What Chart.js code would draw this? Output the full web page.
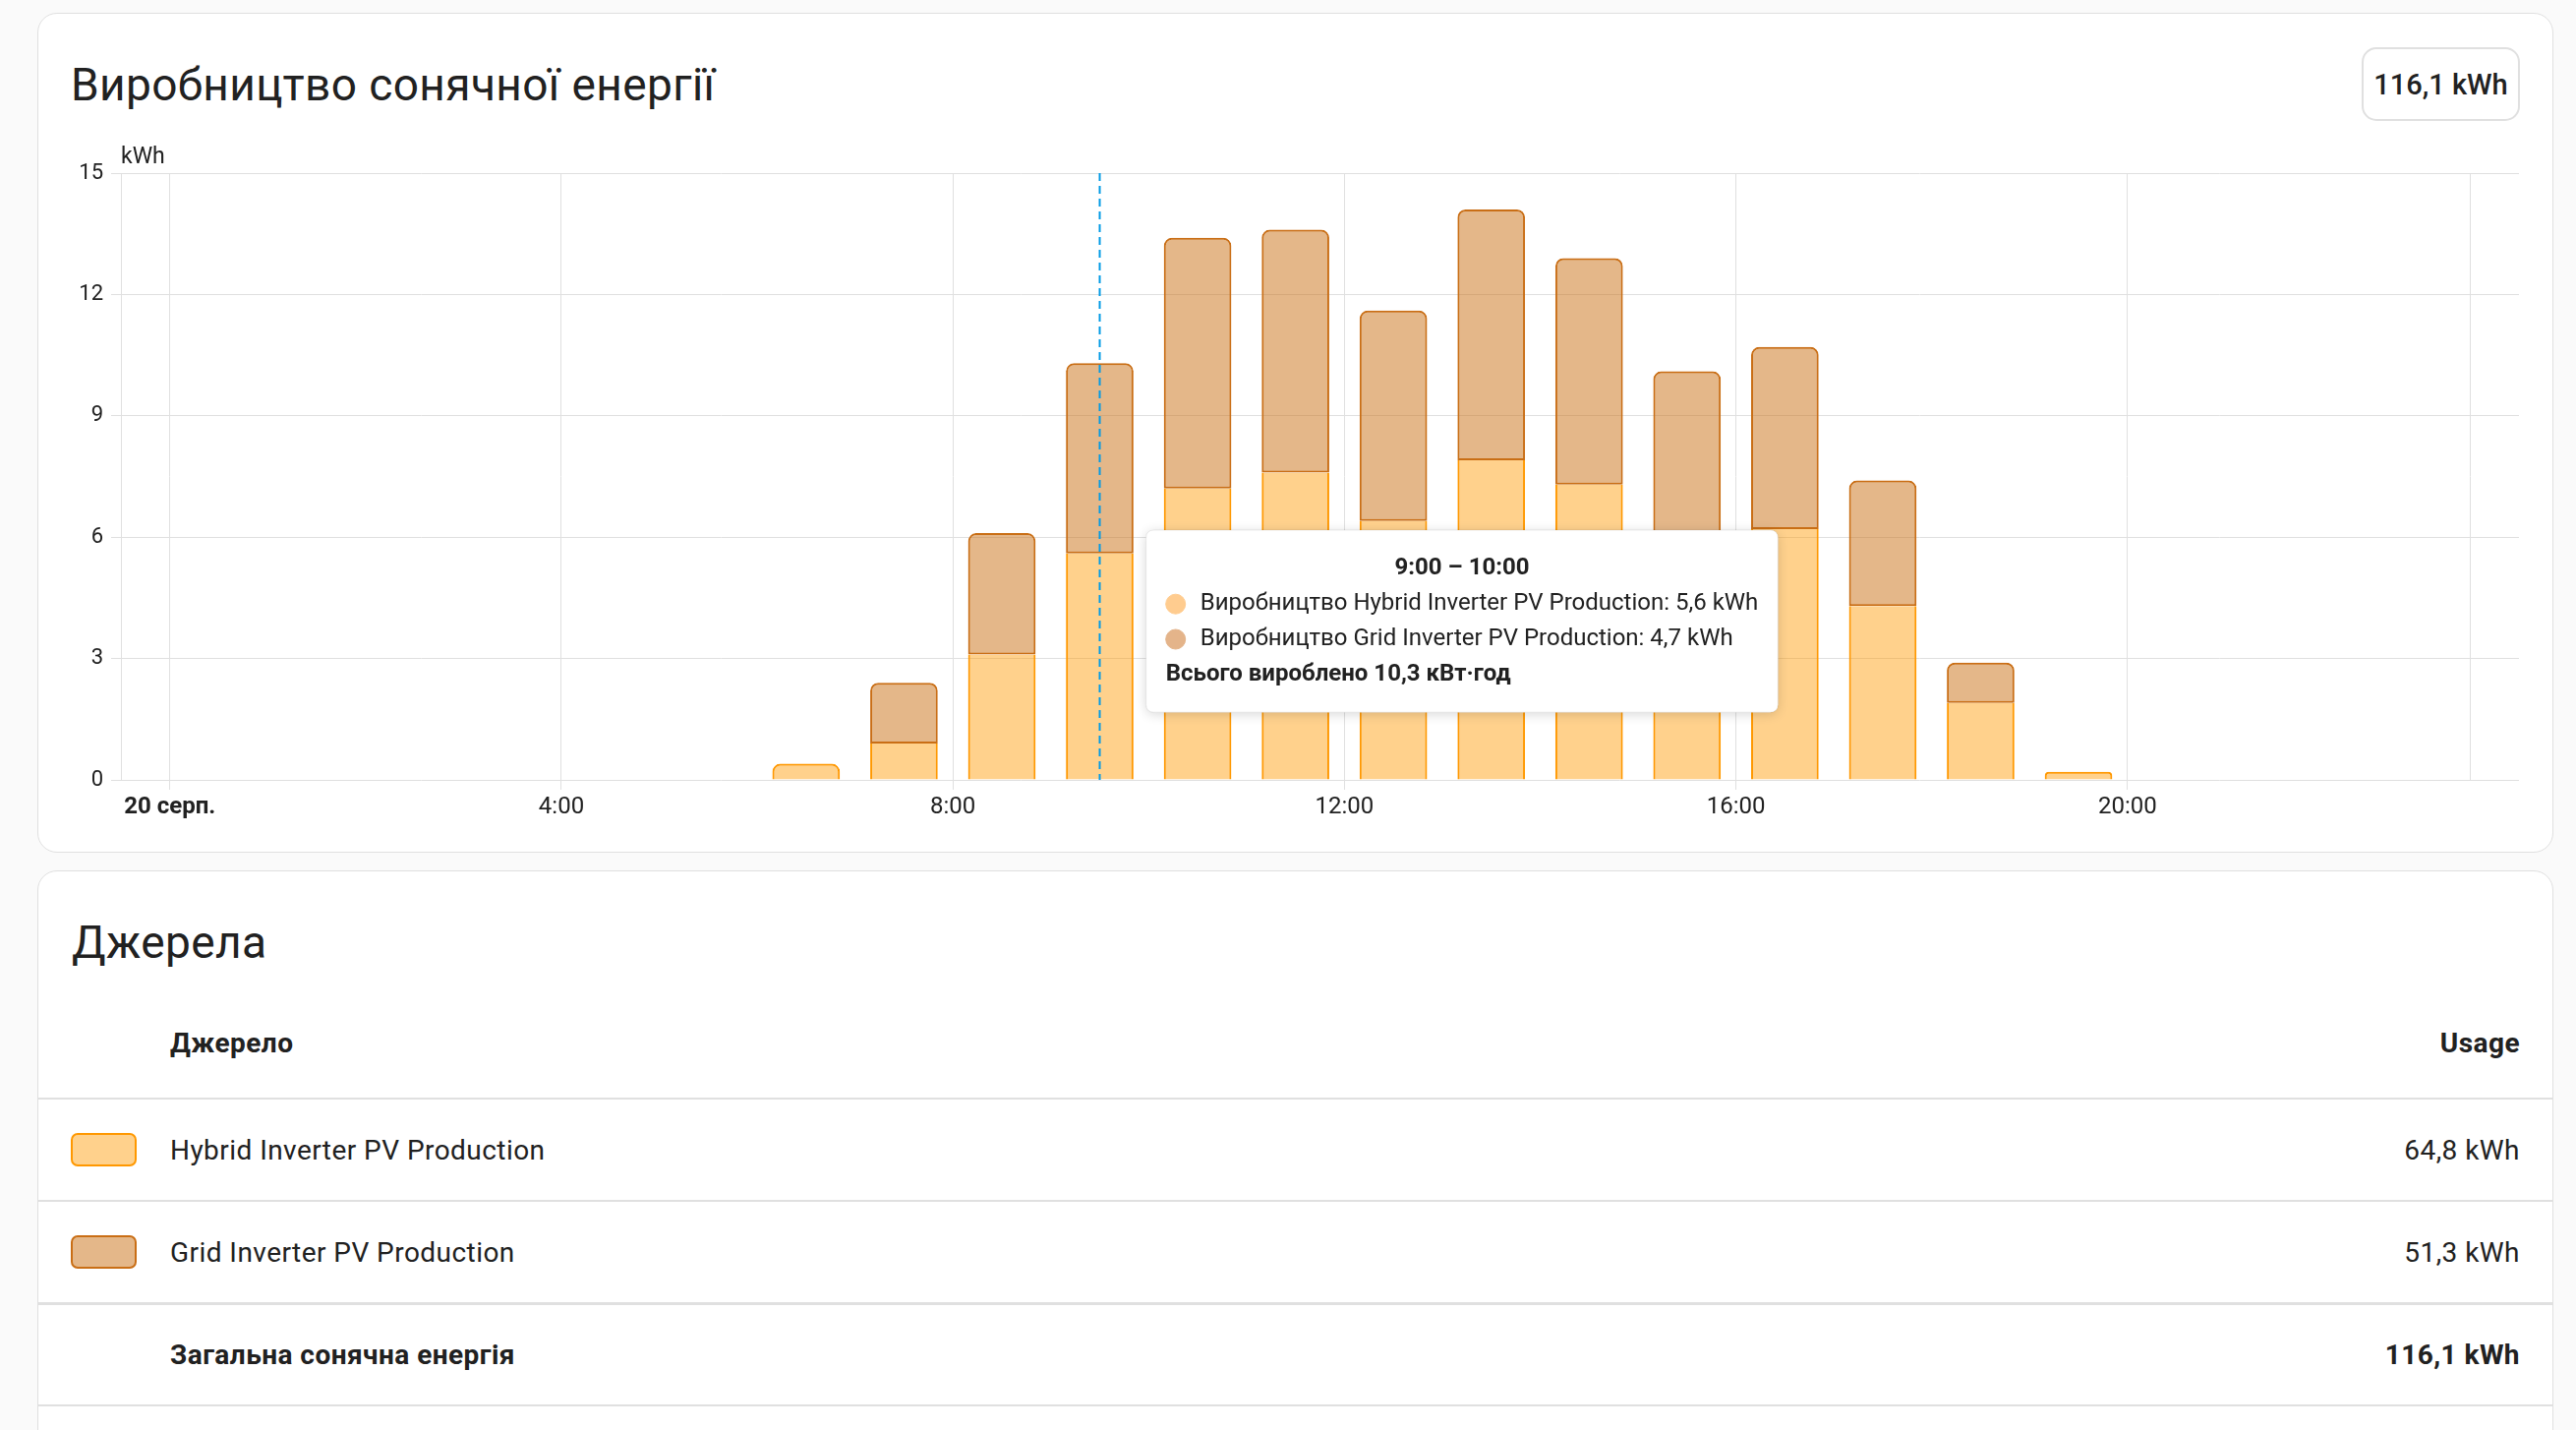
<!DOCTYPE html>
<html lang="uk">
<head>
<meta charset="utf-8">
<title>Виробництво сонячної енергії</title>
<script src="https://cdn.jsdelivr.net/npm/chart.js@4.4.1/dist/chart.umd.min.js"></script>
<style>
  html, body { margin: 0; padding: 0; }
  body {
    width: 2620px; height: 1454px; overflow: hidden; position: relative;
    background: #fafafa; font-family: Roboto, "Noto Sans", sans-serif; color: #212121;
  }
  .card {
    position: absolute; left: 38px; width: 2559px; box-sizing: border-box;
    background: #fff; border: 1px solid #e0e0e0; border-radius: 20px;
  }
  .title { position: absolute; font-size: 46px; line-height: 46px; font-weight: 400; letter-spacing: 0.4px; white-space: nowrap; }
  .badge {
    position: absolute; left: 2402px; top: 48px; width: 161px; height: 75px; box-sizing: border-box;
    border: 2px solid #e0e0e0; border-radius: 15px; display: flex; align-items: center; justify-content: center;
    font-size: 29px; font-weight: 500;
  }
  #chartBox { position: absolute; left: 60px; top: 140px; width: 2520px; height: 700px; }
  .row {
    position: absolute; left: 38px; width: 2559px; box-sizing: border-box;
    display: flex; align-items: center; font-size: 28px; letter-spacing: 0.45px; border-bottom: 2px solid #e0e0e0;
  }
  .row .name { position: absolute; left: 135px; }
  .row .val { position: absolute; right: 34px; }
  .row .swatch { position: absolute; left: 34px; width: 67px; height: 34px; box-sizing: border-box; border: 2px solid; border-radius: 7px; }
  .bold { font-weight: 700; }
</style>
</head>
<body>

<div class="card" style="top:13px; height:854px;"></div>
<div class="title" style="left:72px; top:63px;">Виробництво сонячної енергії</div>
<div class="badge" id="badge"></div>
<div id="chartBox"><canvas id="solarChart"></canvas></div>

<div class="card" style="top:885px; height:640px;"></div>
<div class="title" style="left:73px; top:935px;">Джерела</div>
<div id="table"></div>

<script>
const hours = [6, 7, 8, 9, 10, 11, 12, 13, 14, 15, 16, 17, 18, 19];
const hybridKwh = [0.4, 0.9, 3.1, 5.6, 7.2, 7.6, 6.4, 7.9, 7.3, 5.8, 6.2, 4.3, 1.9, 0.2];
const gridKwh = [null, 1.5, 3.0, 4.7, 6.2, 6.0, 5.2, 6.2, 5.6, 4.3, 4.5, 3.1, 1.0, null];
const seriesNames = ['Hybrid Inverter PV Production', 'Grid Inverter PV Production'];
const tickHours = [0, 4, 8, 12, 16, 20, 23.5];
const tickLabels = ['20 серп.', '4:00', '8:00', '12:00', '16:00', '20:00', ''];
const activeIndex = 3;

const hybridLine = '#ff9800', hybridFill = 'rgba(255,152,0,0.45)';
const gridLine = '#c96e15', gridFill = 'rgba(201,111,20,0.5)';
const ink = '#212121', rule = '#e0e0e0';

const fmt = v => v.toFixed(1).replace('.', ',');
const sum = arr => arr.reduce((a, v) => a + (v || 0), 0);

// badge + table
const hybridTotal = sum(hybridKwh), gridTotal = sum(gridKwh);
document.getElementById('badge').textContent = fmt(hybridTotal + gridTotal) + ' kWh';

const rows = [
  { top: 1005, h: 113, name: 'Джерело', val: 'Usage', bold: true },
  { top: 1118, h: 104, name: seriesNames[0], val: fmt(hybridTotal) + ' kWh', fill: hybridFill, line: hybridLine },
  { top: 1222, h: 105, name: seriesNames[1], val: fmt(gridTotal) + ' kWh', fill: gridFill, line: gridLine, thick: true },
  { top: 1327, h: 103, name: 'Загальна сонячна енергія', val: fmt(hybridTotal + gridTotal) + ' kWh', bold: true }
];
const table = document.getElementById('table');
rows.forEach(r => {
  const el = document.createElement('div');
  el.className = 'row';
  el.style.top = r.top + 'px';
  el.style.height = r.h + 'px';
  if (r.thick) el.style.borderBottomWidth = '3px';
  el.innerHTML = (r.fill ? `<div class="swatch" style="background:${r.fill};border-color:${r.line}"></div>` : '') +
    `<span class="name${r.bold ? ' bold' : ''}">${r.name}</span><span class="val${r.bold ? ' bold' : ''}">${r.val}</span>`;
  table.appendChild(el);
});

Chart.Tooltip.positioners.fixedBox = function () {
  return { x: 1427, y: 399 };
};

const extras = {
  id: 'extras',
  afterDatasetsDraw(chart) {
    const { ctx, chartArea } = chart;
    const x = chart.scales.x.getPixelForValue(hours[activeIndex] + 0.5);
    ctx.save();
    ctx.strokeStyle = '#039be5';
    ctx.lineWidth = 2;
    ctx.setLineDash([8, 5]);
    ctx.beginPath();
    ctx.moveTo(x, chartArea.top);
    ctx.lineTo(x, chartArea.bottom);
    ctx.stroke();
    ctx.restore();

    ctx.save();
    ctx.fillStyle = ink;
    ctx.font = '23px Roboto';
    ctx.textAlign = 'left';
    ctx.textBaseline = 'alphabetic';
    ctx.fillText('kWh', chartArea.left, chartArea.top - 10);
    ctx.restore();
  },
  beforeTooltipDraw(chart, args) {
    const t = args.tooltip;
    const ctx = chart.ctx;
    ctx.save();
    ctx.shadowColor = 'rgba(0,0,0,0.16)';
    ctx.shadowBlur = 12;
    ctx.shadowOffsetY = 2;
    ctx.fillStyle = '#fff';
    ctx.beginPath();
    ctx.roundRect(t.x, t.y, t.width, t.height, 8);
    ctx.fill();
    ctx.restore();
  }
};

const chart = new Chart(document.getElementById('solarChart'), {
  type: 'bar',
  data: {
    datasets: [
      {
        label: seriesNames[0],
        data: hours.map((h, i) => ({ x: h + 0.5, y: hybridKwh[i] })),
        backgroundColor: hybridFill,
        borderColor: hybridLine,
        borderWidth: c => ({ left: 2, right: 2, bottom: 0, top: gridKwh[c.dataIndex] ? 0 : 2 }),
        borderRadius: c => gridKwh[c.dataIndex] ? 0 : 8,
        borderSkipped: 'start'
      },
      {
        label: seriesNames[1],
        data: hours.map((h, i) => ({ x: h + 0.5, y: gridKwh[i] })),
        backgroundColor: gridFill,
        borderColor: gridLine,
        borderWidth: 2,
        borderRadius: { topLeft: 8, topRight: 8, bottomLeft: 0, bottomRight: 0 },
        borderSkipped: false
      }
    ]
  },
  options: {
    responsive: true,
    maintainAspectRatio: false,
    animation: false,
    events: [],
    barPercentage: 0.69,
    categoryPercentage: 1,
    layout: { padding: { top: 36, right: 18, left: 0, bottom: 0 } },
    scales: {
      x: {
        type: 'linear',
        stacked: true,
        min: -0.5,
        max: 24,
        offset: false,
        afterBuildTicks: s => { s.ticks = tickHours.map(v => ({ value: v })); },
        afterFit: s => { s.height = 47; },
        grid: {
          offset: false,
          color: rule,
          tickLength: 10,
          tickColor: c => (c.tick && c.tick.value === 23.5) ? 'rgba(0,0,0,0)' : rule
        },
        border: { display: false },
        ticks: {
          autoSkip: false,
          maxRotation: 0,
          padding: 4,
          color: ink,
          font: c => ({ family: 'Roboto', size: 24, weight: (c.tick && c.tick.value === 0) ? 'bold' : 'normal' }),
          callback: v => tickLabels[tickHours.indexOf(v)] ?? ''
        }
      },
      y: {
        stacked: true,
        min: 0,
        max: 15,
        afterFit: s => { s.width = 63; },
        grid: { color: rule, tickLength: 10 },
        border: { display: true, color: rule },
        ticks: {
          stepSize: 3,
          padding: 8,
          color: ink,
          font: { family: 'Roboto', size: 22 }
        }
      }
    },
    plugins: {
      legend: { display: false },
      tooltip: {
        enabled: true,
        position: 'fixedBox',
        xAlign: 'center',
        yAlign: 'top',
        caretSize: 0,
        caretPadding: 0,
        backgroundColor: '#ffffff',
        borderColor: 'rgba(0,0,0,0.08)',
        borderWidth: 1,
        cornerRadius: 8,
        padding: { top: 25, bottom: 24, left: 20, right: 20 },
        titleColor: ink,
        bodyColor: ink,
        footerColor: ink,
        titleFont: { family: 'Roboto', size: 24, weight: 'bold' },
        bodyFont: { family: 'Roboto', size: 24 },
        footerFont: { family: 'Roboto', size: 24, weight: 'bold' },
        titleAlign: 'center',
        titleMarginBottom: 7,
        bodySpacing: 7,
        footerMarginTop: 7,
        boxWidth: 20,
        boxHeight: 20,
        boxPadding: 13,
        usePointStyle: true,
        callbacks: {
          title: items => {
            const h = hours[items[0].dataIndex];
            return `${h}:00 – ${h + 1}:00`;
          },
          label: c => `Виробництво ${c.dataset.label}: ${fmt(c.parsed.y)} kWh`,
          labelColor: c => c.datasetIndex === 0
            ? { borderColor: '#ffcc8f', backgroundColor: '#ffcc8f' }
            : { borderColor: '#e4b48a', backgroundColor: '#e4b48a' },
          labelPointStyle: () => ({ pointStyle: 'circle', rotation: 0 }),
          footer: items => `Всього вироблено ${fmt(items.reduce((a, it) => a + it.parsed.y, 0))} кВт·год`
        }
      }
    }
  },
  plugins: [extras]
});

chart.tooltip.setActiveElements(
  [{ datasetIndex: 0, index: activeIndex }, { datasetIndex: 1, index: activeIndex }],
  { x: 0, y: 0 }
);
chart.update();
</script>
</body>
</html>
